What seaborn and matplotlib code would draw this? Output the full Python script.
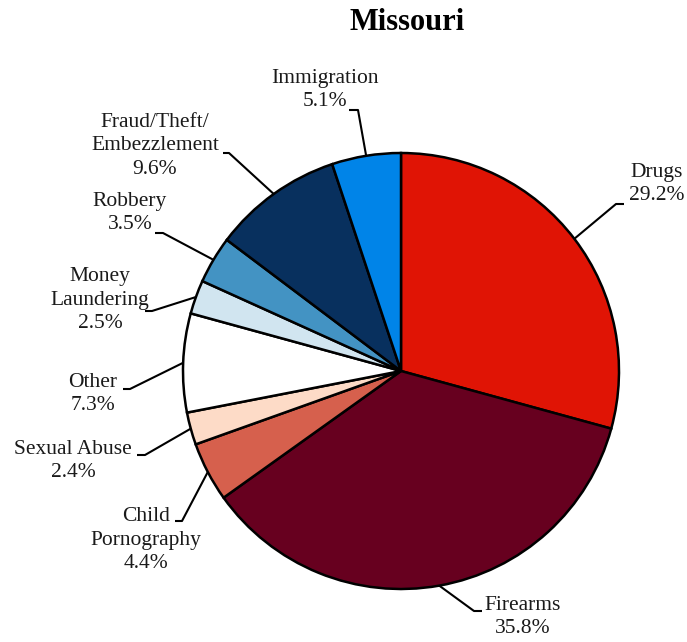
import numpy as np
import matplotlib
matplotlib.use("Agg")
import matplotlib.pyplot as plt
import seaborn as sns

# data, clockwise from 12 o'clock
categories = ["Drugs", "Firearms", "Child\nPornography", "Sexual Abuse", "Other",
              "Money\nLaundering", "Robbery", "Fraud/Theft/\nEmbezzlement", "Immigration"]
shares = [29.2, 35.8, 4.4, 2.4, 7.3, 2.5, 3.5, 9.6, 5.1]
colors = ["#E01405", "#67001F", "#D6604D", "#FDDBC7", "#FFFFFF",
          "#D1E5F0", "#4393C3", "#08305E", "#0084E8"]

# label layout in pixel coords (x, y from top): text centre, elbow end, elbow corner
text_pos = [(657, 184), (523, 617), (146, 540), (73, 461), (93, 394),
            (100, 300), (130, 213), (155, 146), (325, 90)]
elbow_end = [(624, 204), (482, 611), (175, 521), (137, 455), (123, 389),
             (145, 311), (155, 233), (223, 153), (349, 110)]
elbow_corner = [(616, 204), (474, 611), (182, 521), (145, 455), (130, 389),
                (152, 311), (163, 233), (229, 153), (358, 110)]

W, H = 687, 642
cx, cy, r = 401, 371, 218

sns.set_style("white")
plt.rcParams['font.family'] = ['Liberation Serif', 'DejaVu Serif']

fig = plt.figure(figsize=(W / 100, H / 100), dpi=100)
ax = fig.add_axes([0, 0, 1, 1])

def fy(y):
    return H - y

ax.pie(shares, colors=colors, startangle=90, counterclock=False,
       center=(cx, fy(cy)), radius=r, normalize=True,
       wedgeprops=dict(edgecolor='black', linewidth=1.8))
ax.set_xlim(0, W)
ax.set_ylim(0, H)
ax.set_aspect('equal')
ax.axis('off')

frac = np.array(shares) / sum(shares)
cum = np.cumsum(frac) - frac / 2
for i, (cat, v) in enumerate(zip(categories, shares)):
    ang = np.deg2rad(90 - cum[i] * 360)
    px, py = cx + r * np.cos(ang), fy(cy) + r * np.sin(ang)
    (ex, ey), (kx, ky) = elbow_end[i], elbow_corner[i]
    ax.plot([px, kx, ex], [py, fy(ky), fy(ey)], color='black', lw=1.5,
            solid_capstyle='butt', zorder=3)
    tx, ty = text_pos[i]
    ax.text(tx, fy(ty), f"{cat}\n{v:.1f}%", ha='center', va='center',
            fontsize=15.5, linespacing=1.32, color='#1a1a1a')

ax.text(407, fy(22), "Missouri", ha='center', va='center',
        fontsize=22, fontweight='bold', color='black')

fig.savefig("out.png", dpi=100)
